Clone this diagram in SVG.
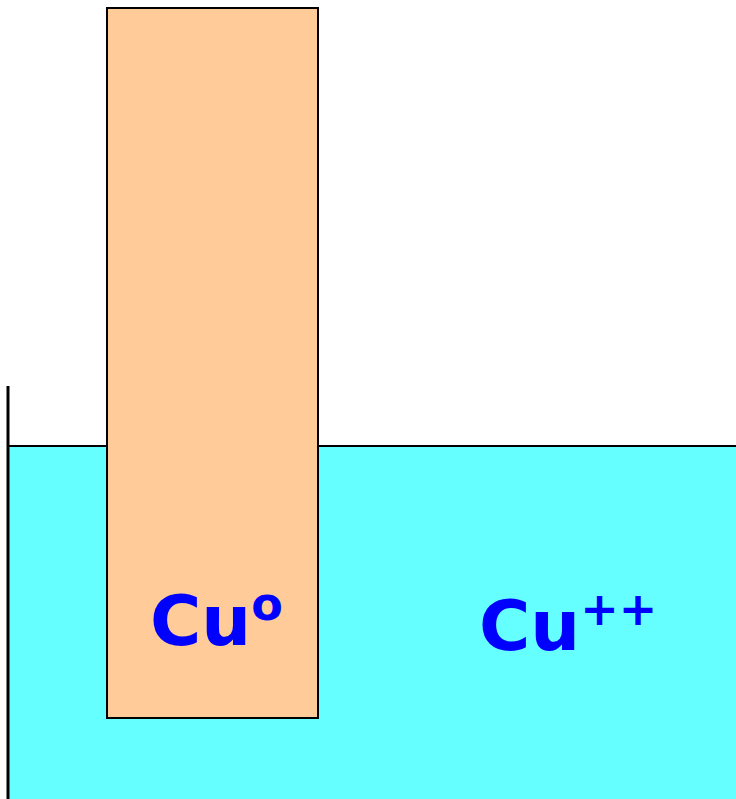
<svg xmlns="http://www.w3.org/2000/svg" width="736" height="799" viewBox="0 0 736 799">
<style>
.lbl{font-family:"DejaVu Sans",Verdana,sans-serif;font-weight:bold;fill:#0000FF;font-size:70px}
.sup{font-size:46px}
</style>
<rect width="736" height="799" fill="#FFFFFF"/>
<g id="solution">
<rect x="8" y="446" width="730" height="355" fill="#66FFFF"/>
<line x1="8" y1="446" x2="736" y2="446" stroke="#000" stroke-width="2"/>
</g>
<g id="wall">
<line x1="8" y1="386" x2="8" y2="799" stroke="#000" stroke-width="3"/>
</g>
<g id="electrode">
<rect x="107" y="8" width="211" height="710" fill="#FFCC99" stroke="#000" stroke-width="2"/>
</g>
<g id="label-cu0">
<text class="lbl" x="150" y="645">Cu<tspan class="sup" dy="-25">o</tspan></text>
</g>
<g id="label-cu2">
<text class="lbl" x="479" y="650">Cu<tspan class="sup" dy="-25">++</tspan></text>
</g>
</svg>
